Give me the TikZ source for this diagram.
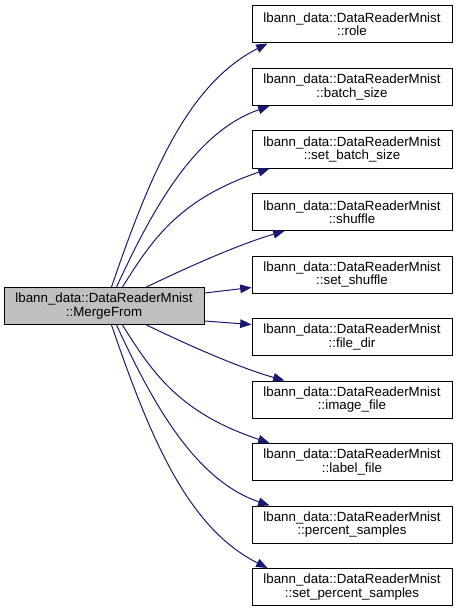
\documentclass[tikz,border=0pt]{standalone}
\usepackage{fontspec}
\setmainfont{Liberation Sans}
\usetikzlibrary{arrows.meta,calc}
\definecolor{edgeblue}{HTML}{191970}
\definecolor{startgray}{HTML}{BFBFBF}
\tikzset{
  fn/.style={draw=black, line width=0.75pt, fill=white, minimum width=150pt, minimum height=27.75pt,
    inner sep=0pt, align=center, font=\fontsize{10pt}{10pt}\selectfont},
  startfn/.style={fn, fill=startgray},
  call/.style={draw=edgeblue, line width=0.75pt, -{Triangle[length=8.5pt,width=6.5pt]}}
}
\begin{document}
\begin{tikzpicture}[x=0.75pt,y=-0.75pt]
\useasboundingbox (0,0) rectangle (456,613);
\node[startfn] (L) at (104,306) {lbann\_data::DataReaderMnist\\::MergeFrom};
\node[fn] (R1) at (352,24.5) {lbann\_data::DataReaderMnist\\::role};
\node[fn] (R2) at (352,87) {lbann\_data::DataReaderMnist\\::batch\_size};
\node[fn] (R3) at (352,149.5) {lbann\_data::DataReaderMnist\\::set\_batch\_size};
\node[fn] (R4) at (352,212) {lbann\_data::DataReaderMnist\\::shuffle};
\node[fn] (R5) at (352,274.5) {lbann\_data::DataReaderMnist\\::set\_shuffle};
\node[fn] (R6) at (352,337) {lbann\_data::DataReaderMnist\\::file\_dir};
\node[fn] (R7) at (352,399.5) {lbann\_data::DataReaderMnist\\::image\_file};
\node[fn] (R8) at (352,462) {lbann\_data::DataReaderMnist\\::label\_file};
\node[fn] (R9) at (352,524.5) {lbann\_data::DataReaderMnist\\::percent\_samples};
\node[fn] (R10) at (352,587) {lbann\_data::DataReaderMnist\\::set\_percent\_samples};

\draw[call] ($(L.north west)+(108,0)$) .. controls (150.5,173) and (188,84) .. ($(R1.south west)+(16,0)$);
\draw[call] ($(L.north west)+(113,0)$) .. controls (153,208) and (195,132) .. ($(R2.south west)+(18,0)$);
\draw[call] ($(L.north west)+(119,0)$) .. controls (153,238) and (180,199) .. ($(R3.south west)+(18,0)$);
\draw[call] ($(L.north west)+(143,0)$) .. controls (190,266) and (240,244) .. ($(R4.south west)+(33,0)$);
\draw[call] ($(L.north east)+(0,6)$) -- ($(R5.south west)+(0,-6)$);
\draw[call] ($(L.south east)+(0,-4)$) -- ($(R6.north west)+(0,6.5)$);
\draw[call] ($(L.south west)+(143,0)$) .. controls (190,346) and (240,368) .. ($(R7.north west)+(33,0)$);
\draw[call] ($(L.south west)+(119,0)$) .. controls (153,374) and (180,413) .. ($(R8.north west)+(18,0)$);
\draw[call] ($(L.south west)+(113,0)$) .. controls (153,404) and (195,480) .. ($(R9.north west)+(18,0)$);
\draw[call] ($(L.south west)+(108,0)$) .. controls (150.5,439) and (188,528) .. ($(R10.north west)+(16,0)$);
\end{tikzpicture}
\end{document}
